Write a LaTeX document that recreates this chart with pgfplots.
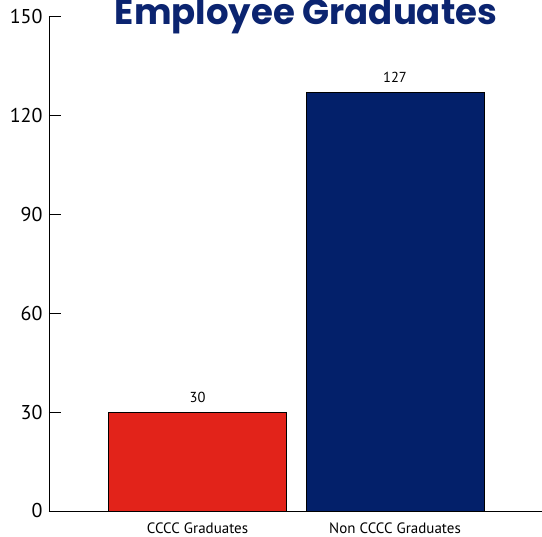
\documentclass[border=0pt]{standalone}
\usepackage{pgfplots}
\pgfplotsset{compat=1.18}
\usepackage{fontspec}
\setmainfont{PT Sans}
\newfontfamily\titlefont{Poppins}[UprightFont=* Bold]
\definecolor{barred}{HTML}{E2231A}
\definecolor{barnavy}{HTML}{03206A}
\definecolor{titlenavy}{HTML}{0B2470}
\begin{document}
\begin{tikzpicture}
\begin{axis}[
  at={(0pt,0pt)}, anchor=south west,
  scale only axis,
  width=493pt, height=494.5pt,
  xmin=-0.752, xmax=1.744,
  ymin=0, ymax=150,
  axis x line=bottom, axis y line=left,
  axis line style={-, line width=0.9pt},
  ytick={0,30,60,90,120,150},
  xtick={0,1},
  xticklabels={CCCC Graduates, Non CCCC Graduates},
  x tick style={draw=none},
  y tick style={line width=0.9pt, black},
  major tick length=12pt,
  tick align=inside,
  /pgf/number format/assume math mode=true,
  yticklabel style={font=\fontsize{20}{22}\selectfont, xshift=-3pt},
  xticklabel style={font=\fontsize{15}{17}\selectfont, anchor=north, yshift=4pt},
  ybar, bar width=178pt,
  nodes near coords,
  nodes near coords style={font=\fontsize{14.5}{16}\selectfont, anchor=south, yshift=6pt},
  clip=false,
]
\addplot[ybar, bar shift=0pt, fill=barred, draw=black, line width=0.6pt] coordinates {(0,30)};
\addplot[ybar, bar shift=0pt, fill=barnavy, draw=black, line width=0.6pt] coordinates {(1,127)};
\end{axis}
\node[anchor=base, text=titlenavy, font=\titlefont\fontsize{35.5}{38}\selectfont, inner sep=0pt] at (257pt,486pt) {Employee Graduates};
\pgfresetboundingbox
\useasboundingbox (-49pt,-26pt) rectangle (493pt,511pt);
\end{tikzpicture}
\end{document}
